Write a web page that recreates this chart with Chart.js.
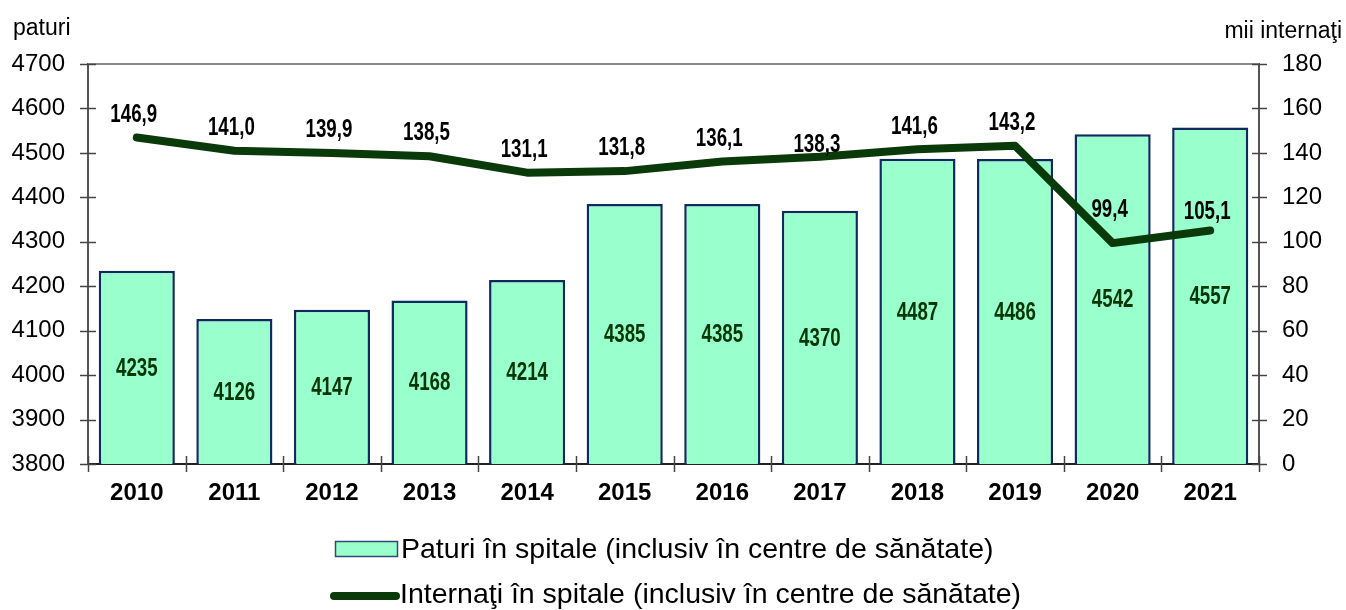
<!DOCTYPE html>
<html>
<head>
<meta charset="utf-8">
<script src="https://cdn.jsdelivr.net/npm/chart.js@4.4.1/dist/chart.umd.min.js"></script>
<style>
  html, body { margin: 0; padding: 0; background: #ffffff; }
  #wrap { width: 1346px; height: 610px; position: relative; }
</style>
</head>
<body>
<div id="wrap"><canvas id="c" width="1346" height="610"></canvas></div>
<script>
// ---- data ----
const categories = ['2010','2011','2012','2013','2014','2015','2016','2017','2018','2019','2020','2021'];
const beds = [4235, 4126, 4147, 4168, 4214, 4385, 4385, 4370, 4487, 4486, 4542, 4557];
const admitted = [146.9, 141.0, 139.9, 138.5, 131.1, 131.8, 136.1, 138.3, 141.6, 143.2, 99.4, 105.1];
const leftAxisTitle = 'paturi';
const rightAxisTitle = 'mii internaţi';
const bedsLabel = 'Paturi în spitale (inclusiv în centre de sănătate)';
const admittedLabel = 'Internaţi în spitale (inclusiv în centre de sănătate)';

const FONT = '"Liberation Sans", Arial, sans-serif';
const BAR_FILL = '#99FFCC';
const BAR_BORDER = '#0E2A5E';
const LINE_COLOR = '#0A3A0A';

function narrowText(ctx, text, x, y, sx) {
  ctx.save();
  ctx.translate(x, y);
  ctx.scale(sx, 1);
  ctx.fillText(text, 0, 0);
  ctx.restore();
}

const decorPlugin = {
  id: 'decor',
  afterDraw(chart, args, opts) {
    const ctx = chart.ctx;
    const a = chart.chartArea;
    const y = chart.scales.y, y1 = chart.scales.y1;
    ctx.save();
    // top frame line
    ctx.strokeStyle = '#8a8a8a';
    ctx.lineWidth = 2;
    ctx.beginPath(); ctx.moveTo(a.left, a.top); ctx.lineTo(a.right, a.top); ctx.stroke();
    // tick marks
    ctx.strokeStyle = '#444';
    ctx.lineWidth = 1.5;
    y.ticks.forEach(t => {
      const py = Math.round(y.getPixelForValue(t.value)) + 0.5;
      ctx.beginPath(); ctx.moveTo(a.left - 8, py); ctx.lineTo(a.left + 8, py); ctx.stroke();
    });
    y1.ticks.forEach(t => {
      const py = Math.round(y1.getPixelForValue(t.value)) + 0.5;
      ctx.beginPath(); ctx.moveTo(a.right - 7, py); ctx.lineTo(a.right + 8, py); ctx.stroke();
    });
    const n = categories.length;
    for (let k = 0; k <= n; k++) {
      const px = Math.round(a.left + (a.right - a.left) * k / n) + 0.5;
      ctx.beginPath(); ctx.moveTo(px, a.bottom - 8); ctx.lineTo(px, a.bottom + 8); ctx.stroke();
    }
    // axis titles
    ctx.fillStyle = '#000';
    ctx.font = '23px ' + FONT;
    ctx.textBaseline = 'alphabetic';
    ctx.textAlign = 'left';
    ctx.fillText(leftAxisTitle, 13, 35);
    ctx.textAlign = 'right';
    ctx.fillText(rightAxisTitle, 1342, 38);

    // value labels
    const barMeta = chart.getDatasetMeta(0);
    const lineMeta = chart.getDatasetMeta(1);
    const basePx = y.getPixelForValue(y.min);
    ctx.textAlign = 'center';
    ctx.textBaseline = 'middle';
    ctx.font = 'bold 26px ' + FONT;
    ctx.fillStyle = '#073607';
    barMeta.data.forEach((el, i) => {
      const v = chart.data.datasets[0].data[i];
      const topPx = y.getPixelForValue(v);
      narrowText(ctx, String(v), el.x, (topPx + basePx) / 2 + 1, 0.72);
    });
    ctx.fillStyle = '#000';
    lineMeta.data.forEach((el, i) => {
      const v = chart.data.datasets[1].data[i];
      const off = (opts.labelOffsets && opts.labelOffsets[i] !== undefined) ? opts.labelOffsets[i] : 23;
      narrowText(ctx, v.toFixed(1).replace('.', ','), el.x - 3, el.y - off, 0.72);
    });

    // legend
    ctx.font = '28.5px ' + FONT;
    ctx.textAlign = 'left';
    ctx.textBaseline = 'middle';
    ctx.fillStyle = BAR_FILL;
    ctx.fillRect(335, 541, 63, 16);
    ctx.strokeStyle = '#2E4A7A';
    ctx.lineWidth = 1.5;
    ctx.strokeRect(335.5, 541.5, 62, 15);
    ctx.fillStyle = '#000';
    ctx.fillText(chart.data.datasets[0].label, 401, 550);
    ctx.strokeStyle = LINE_COLOR;
    ctx.lineWidth = 8;
    ctx.lineCap = 'round';
    ctx.beginPath(); ctx.moveTo(334, 596); ctx.lineTo(396, 596); ctx.stroke();
    ctx.fillText(chart.data.datasets[1].label, 400, 595);
    ctx.restore();
  }
};

new Chart(document.getElementById('c'), {
  data: {
    labels: categories,
    datasets: [
      {
        type: 'bar',
        label: bedsLabel,
        data: beds,
        yAxisID: 'y',
        backgroundColor: BAR_FILL,
        borderColor: BAR_BORDER,
        borderWidth: 2.5,
        borderSkipped: false,
        barPercentage: 0.78,
        categoryPercentage: 1.0,
        order: 2
      },
      {
        type: 'line',
        label: admittedLabel,
        data: admitted,
        yAxisID: 'y1',
        borderColor: LINE_COLOR,
        backgroundColor: LINE_COLOR,
        borderWidth: 8,
        borderCapStyle: 'round',
        borderJoinStyle: 'round',
        pointRadius: 0,
        tension: 0,
        fill: false,
        order: 1
      }
    ]
  },
  options: {
    responsive: false,
    animation: false,
    layout: { padding: { top: 64, left: 0, right: 0, bottom: 0 } },
    plugins: {
      legend: { display: false },
      tooltip: { enabled: false },
      decor: { labelOffsets: { 7: 12, 10: 33, 11: 19 } }
    },
    scales: {
      x: {
        grid: { display: false, drawTicks: false },
        border: { display: true, color: '#222', width: 2 },
        ticks: { color: '#000', font: { family: FONT, size: 24, weight: 'bold' }, padding: 15, maxRotation: 0 },
        afterFit(s) { s.height = 146; }
      },
      y: {
        position: 'left',
        min: 3800, max: 4700,
        grid: { display: false, drawTicks: false },
        border: { display: true, color: '#555', width: 2 },
        ticks: { stepSize: 100, color: '#000', font: { family: FONT, size: 24 }, padding: 23, callback: v => String(v) },
        afterFit(s) { s.width = 88; }
      },
      y1: {
        position: 'right',
        min: 0, max: 180,
        grid: { display: false, drawTicks: false },
        border: { display: true, color: '#555', width: 2 },
        ticks: { stepSize: 20, color: '#000', font: { family: FONT, size: 24 }, padding: 23, callback: v => String(v) },
        afterFit(s) { s.width = 87; }
      }
    }
  },
  plugins: [decorPlugin]
});
</script>
</body>
</html>
